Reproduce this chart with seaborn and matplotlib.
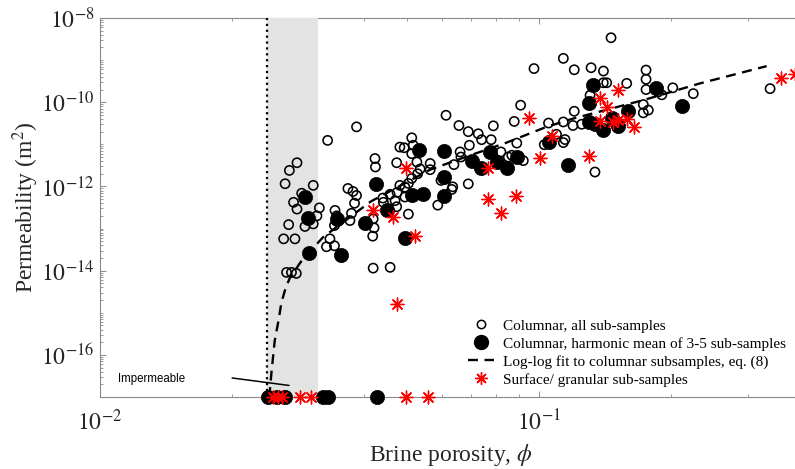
import numpy as np
import pandas as pd
import matplotlib
matplotlib.use("Agg")
import matplotlib.pyplot as plt
import seaborn as sns
from matplotlib.lines import Line2D
from matplotlib.ticker import FixedLocator, FuncFormatter, NullFormatter

# ---------------- data ----------------
open_phi = [0.0330, 0.0281, 0.0270, 0.0264, 0.0306, 0.0288, 0.0276, 0.0281, 0.0316, 0.0312,
            0.0269, 0.0293, 0.0306, 0.0262, 0.0278, 0.0334, 0.0328, 0.0342, 0.0266, 0.0273,
            0.0280, 0.0343, 0.0346, 0.0342, 0.0367, 0.0377, 0.0384, 0.0380, 0.0374, 0.0371,
            0.0423, 0.0424, 0.0419, 0.0421, 0.0418, 0.0419, 0.0384, 0.0441, 0.0474, 0.0458,
            0.0475, 0.0458, 0.0614, 0.0657, 0.0787, 0.0908, 0.0878, 0.0690, 0.0727, 0.0740,
            0.0778, 0.0890, 0.0694, 0.0661, 0.0664, 0.0819, 0.0851, 0.0867, 0.0640, 0.0513,
            0.0517, 0.0493, 0.0513, 0.0527, 0.0565, 0.0565, 0.0536, 0.0529, 0.0513, 0.0504,
            0.0495, 0.0598, 0.0636, 0.0633, 0.0690, 0.0442, 0.0470, 0.0495, 0.0474, 0.0588,
            0.0504, 0.1459, 0.1136, 0.0974, 0.1203, 0.1314, 0.1402, 0.1753, 0.1753, 0.1753,
            0.1401, 0.1426, 0.1584, 0.1307, 0.1203, 0.1728, 0.1774, 0.1728, 0.1051, 0.1136,
            0.1195, 0.1251, 0.1028, 0.1136, 0.1146, 0.1096, 0.0921, 0.1341, 0.1503, 0.1904,
            0.2017, 0.1870, 0.2246, 0.3360, 0.0482, 0.0482]
open_k = [1.24e-11, 3.66e-12, 2.40e-12, 1.16e-12, 1.06e-12, 6.9e-13, 4.2e-13, 2.9e-13, 3.1e-13, 2.0e-13,
          1.24e-13, 1.12e-13, 1.29e-13, 5.7e-14, 5.7e-14, 5.7e-14, 3.7e-14, 3.9e-14, 9.1e-15, 9.1e-15,
          8.6e-15, 2.7e-13, 2.0e-13, 1.18e-13, 8.95e-13, 7.6e-13, 6.1e-13, 4.0e-13, 2.3e-13, 1.55e-13,
          4.6e-12, 2.9e-12, 1.70e-13, 1.04e-13, 6.6e-14, 1.15e-14, 2.6e-11, 5.3e-13, 3.66e-12, 6.5e-13,
          7.2e-13, 1.2e-14, 4.9e-11, 2.8e-11, 2.75e-11, 8.5e-11, 3.5e-11, 2.0e-11, 1.78e-11, 1.29e-11,
          1.29e-11, 1.07e-11, 9.5e-12, 6.6e-12, 5.0e-12, 6.6e-12, 5.0e-12, 5.5e-12, 3.3e-12, 1.43e-11,
          9.5e-12, 8.3e-12, 6.0e-12, 3.8e-12, 3.5e-12, 2.5e-12, 2.6e-12, 2.0e-12, 1.55e-12, 1.18e-12,
          9.6e-13, 1.39e-12, 9.8e-13, 8.5e-13, 1.15e-12, 4.2e-13, 4.6e-13, 5.6e-13, 3.3e-13, 3.6e-13,
          2.2e-13, 3.4e-9, 1.1e-9, 6.3e-10, 5.9e-10, 6.6e-10, 5.5e-10, 5.8e-10, 3.5e-10, 2.0e-10,
          2.9e-10, 2.9e-10, 2.8e-10, 1.47e-10, 6.1e-11, 8.8e-11, 6.5e-11, 5.6e-11, 3.2e-11, 3.4e-11,
          2.8e-11, 3.0e-11, 9.8e-12, 1.1e-11, 1.3e-11, 1.73e-11, 4.1e-12, 2.2e-12, 2.9e-11, 1.5e-10,
          2.2e-10, 1.76e-10, 1.6e-10, 2.1e-10, 8.6e-12, 1.06e-12]

mean_phi = [0.0293, 0.0298, 0.0346, 0.0402, 0.0426, 0.0300, 0.0354, 0.0450, 0.0534, 0.0609,
            0.0513, 0.0544, 0.0609, 0.0608, 0.0495, 0.0703, 0.0738, 0.0773, 0.0802, 0.0847,
            0.0891, 0.1327, 0.1302, 0.1850, 0.1598, 0.1297, 0.1341, 0.1399, 0.1464, 0.1516,
            0.1051, 0.1166, 0.2113,
            0.0241, 0.0253, 0.0264, 0.0322, 0.0331, 0.0427]
mean_k = [5.6e-13, 1.8e-13, 1.7e-13, 1.39e-13, 1.16e-12, 2.7e-14, 2.3e-14, 2.8e-13, 7.2e-12, 7.1e-12,
          6.3e-13, 6.7e-13, 1.64e-12, 5.9e-13, 6.1e-14, 4.1e-12, 2.8e-12, 6.7e-12, 3.9e-12, 2.8e-12,
          5.0e-12, 2.5e-10, 9.7e-11, 2.15e-10, 6.3e-11, 3.4e-11, 3.1e-11, 2.2e-11, 4.3e-11, 2.8e-11,
          1.13e-11, 3.2e-12, 8.0e-11,
          1e-17, 1e-17, 1e-17, 1e-17, 1e-17, 1e-17]

surf_phi = [0.0418, 0.0466, 0.0476, 0.0499, 0.0522, 0.0766, 0.0766, 0.0819, 0.0888, 0.0949,
            0.1069, 0.1003, 0.1298, 0.1510, 0.1374, 0.1430, 0.1374, 0.1476, 0.1514, 0.1584,
            0.1648, 0.3553, 0.3829,
            0.0248, 0.0254, 0.0260, 0.0286, 0.0303, 0.0499, 0.0558]
surf_k = [2.8e-13, 1.9e-13, 1.6e-15, 2.8e-12, 6.5e-14, 2.7e-12, 5.1e-13, 2.3e-13, 5.8e-13, 4.3e-11,
          1.6e-11, 4.8e-12, 5.2e-12, 2.0e-10, 1.24e-10, 7.7e-11, 3.6e-11, 3.3e-11, 3.8e-11, 4.1e-11,
          2.6e-11, 3.7e-10, 4.6e-10,
          1e-17, 1e-17, 1e-17, 1e-17, 1e-17, 1e-17, 1e-17]

fit_phi = [0.0243, 0.0246, 0.0250, 0.0255, 0.0259, 0.0265, 0.0271, 0.0288, 0.0322, 0.0414,
           0.0565, 0.0644, 0.0844, 0.104, 0.1197, 0.1728, 0.2326, 0.330]
fit_k = [1e-17, 4.2e-17, 2.15e-16, 6.5e-16, 1.76e-15, 4.0e-15, 6.9e-15, 1.73e-14, 6.2e-14, 4.4e-13,
         2.5e-12, 4.1e-12, 1.1e-11, 2.6e-11, 4.1e-11, 1.12e-10, 2.8e-10, 7.2e-10]

phi_c = 0.024           # percolation threshold (dotted line)
band_phi = [0.024, 0.0314]  # shaded transition band
imp_line_phi = [0.0200, 0.02695]
imp_line_k = [2.83e-17, 1.88e-17]
imp_text_pos = (0.01099, 2.73e-17)

legend_labels = ["Columnar, all sub-samples",
                 "Columnar, harmonic mean of 3-5 sub-samples",
                 "Log-log fit to columnar subsamples, eq. (8)",
                 "Surface/ granular sub-samples"]

x_major = [0.01, 0.1]
x_minor = [0.02, 0.03, 0.04, 0.05, 0.06, 0.07, 0.08, 0.09, 0.2, 0.3]
y_major_exp = [-16, -14, -12, -10, -8]

# ---------------- style ----------------
sns.set_theme(style="white")
plt.rcParams['font.family'] = ['Liberation Serif', 'DejaVu Serif']
plt.rcParams['mathtext.fontset'] = 'stix'

DPI = 100
fig = plt.figure(figsize=(7.95, 4.69), dpi=DPI)
W, H = 795, 469
ax = fig.add_axes([100 / W, 1 - 397 / H, 695 / W, 379 / H])
ax.set_xscale('log')
ax.set_yscale('log')
ax.set_xlim(0.01, 0.3829)
ax.set_ylim(1e-17, 1e-8)

spine_col = '#8a8a8a'
text_col = '#262626'

# shaded band and threshold line
ax.axvspan(band_phi[0], band_phi[1], color='#e3e3e3', zorder=2.6, lw=0)
ax.axvline(phi_c, color='black', ls=':', lw=1.6, zorder=2.7)

df_open = pd.DataFrame({'phi': open_phi, 'k': open_k})
df_mean = pd.DataFrame({'phi': mean_phi, 'k': mean_k})
df_surf = pd.DataFrame({'phi': surf_phi, 'k': surf_k})
df_fit = pd.DataFrame({'phi': fit_phi, 'k': fit_k})

sns.scatterplot(data=df_open, x='phi', y='k', ax=ax, marker='o', s=44,
                facecolors='none', edgecolor='black', linewidth=1.15,
                clip_on=False, zorder=3, legend=False)
sns.scatterplot(data=df_mean, x='phi', y='k', ax=ax, marker='o', s=105,
                color='black', edgecolor='black', linewidth=0.5,
                clip_on=False, zorder=4, legend=False)
sns.lineplot(data=df_fit, x='phi', y='k', ax=ax, color='black', lw=1.7,
             sort=False, estimator=None, zorder=5, legend=False)
fit_line = ax.get_lines()[-1]
fit_line.set_dashes((4.2, 2.8))
sns.scatterplot(data=df_surf, x='phi', y='k', ax=ax, marker=(8, 2, 0), s=85,
                color='red', linewidth=1.0, clip_on=False, zorder=6, legend=False)

# impermeable annotation
ax.plot(imp_line_phi, imp_line_k, color='black', lw=1.1, zorder=5, clip_on=False)
ax.text(imp_text_pos[0], imp_text_pos[1], "Impermeable", fontsize=8.3,
        family=['Liberation Sans', 'DejaVu Sans'], color='black', ha='left', va='center')

# spines
for side in ['left', 'bottom', 'top']:
    ax.spines[side].set_color(spine_col)
    ax.spines[side].set_linewidth(0.8)
ax.spines['right'].set_visible(False)

# ticks
ax.xaxis.set_major_locator(FixedLocator(x_major))
ax.xaxis.set_minor_locator(FixedLocator(x_minor))
ax.xaxis.set_major_formatter(FuncFormatter(lambda v, p: r'$10^{%d}$' % int(round(np.log10(v)))))
ax.xaxis.set_minor_formatter(NullFormatter())
y_major = [10.0 ** e for e in y_major_exp]
y_minor = [m * 10.0 ** e for e in range(-17, -8) for m in range(1, 10)
           if not (m == 1 and e in y_major_exp)]
ax.yaxis.set_major_locator(FixedLocator(y_major))
ax.yaxis.set_minor_locator(FixedLocator(y_minor))
ax.yaxis.set_major_formatter(FuncFormatter(lambda v, p: r'$10^{%d}$' % int(round(np.log10(v)))))
ax.yaxis.set_minor_formatter(NullFormatter())

ax.tick_params(axis='both', which='both', direction='in', colors=spine_col,
               labelcolor=text_col, top=True, right=False, bottom=True, left=True)
ax.tick_params(axis='both', which='major', length=4.5, width=0.7, labelsize=17)
ax.tick_params(axis='both', which='minor', length=2.2, width=0.6)
ax.tick_params(axis='x', which='major', pad=9)
ax.tick_params(axis='y', which='major', pad=4)

ax.set_xlabel(r'Brine porosity, $\phi$', fontsize=17, color=text_col)
ax.set_ylabel(r'Permeability (m$^2$)', fontsize=17, color=text_col)
ax.xaxis.label.set_va('baseline')
ax.xaxis.set_label_coords((451 - 100) / 695, -(461 - 397) / 379)
ax.yaxis.set_label_coords(-(100 - 41) / 695, 0.5)

# legend
handles = [
    Line2D([], [], ls='none', marker='o', mfc='none', mec='black', mew=1.1, ms=6),
    Line2D([], [], ls='none', marker='o', mfc='black', mec='black', ms=10),
    Line2D([], [], color='black', lw=1.7, dashes=(4.2, 2.8)),
    Line2D([], [], ls='none', marker=(8, 2, 0), color='red', mew=1.0, ms=9),
]
leg = ax.legend(handles, legend_labels, loc='upper left',
                bbox_to_anchor=(468 / W, 1 - 319 / H), bbox_transform=fig.transFigure,
                frameon=False, fontsize=11, borderpad=0, borderaxespad=0,
                handlelength=1.7, handletextpad=0.6, labelspacing=0.27)
for t in leg.get_texts():
    t.set_color('black')

fig.savefig('out.png', dpi=DPI)
